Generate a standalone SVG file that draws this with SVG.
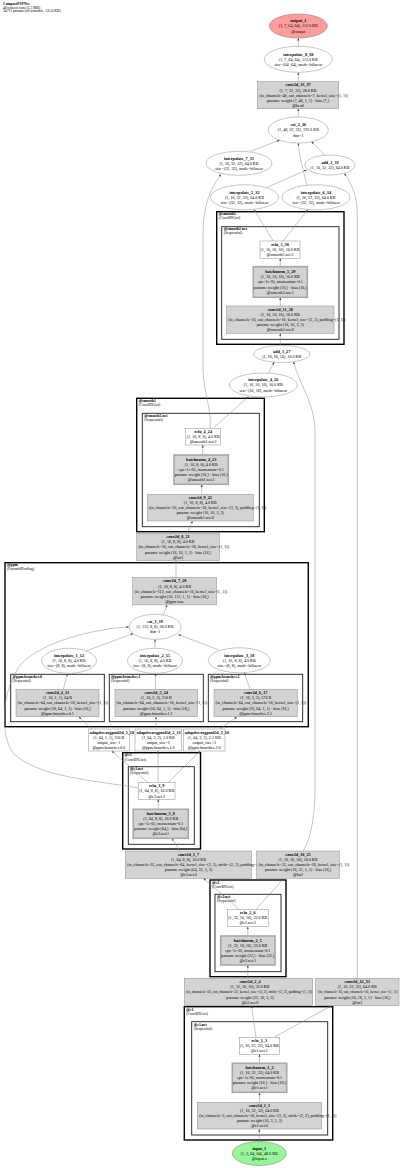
<svg xmlns="http://www.w3.org/2000/svg" width="400" height="1168" viewBox="0 0 400 1168">
<style>
text{font-family:"Liberation Serif","Times New Roman",serif;fill:#000}
.n text{font-size:4.1px;text-anchor:middle}
.n text.h{font-weight:bold;font-size:4.2px}
.n text.s{text-anchor:start}
.n text.sm{font-size:3.6px}
.cl text{font-size:3.8px}
.cl text.h{font-weight:bold}
.hd text{font-size:3.7px}
.e{fill:#fff;stroke:#8c8c8c;stroke-width:0.5}
.cv{fill:#d3d3d3;stroke:#8c8c8c;stroke-width:0.5}
.bn{fill:#d3d3d3;stroke:#a8a8a8;stroke-width:1.6}
.pl{fill:#fff;stroke:#8c8c8c;stroke-width:0.5}
.c1{fill:#fff;stroke:#000;stroke-width:1.4}
.c2{fill:#fff;stroke:#1a1a1a;stroke-width:0.9}
.ed path{fill:none;stroke:#8a8a8a;stroke-width:0.5;marker-end:url(#ah)}
</style>
<defs>
<marker id="ah" viewBox="0 0 10 10" refX="9" refY="5" markerWidth="2.6" markerHeight="2.6" markerUnits="userSpaceOnUse" orient="auto"><path d="M0,1 L10,5 L0,9 z" fill="#444"/></marker>
</defs>
<rect width="400" height="1168" fill="#fff"/>
<g class="hd" id="header">
<text x="3" y="5.2" font-weight="bold">CompactPSPNet</text>
<text x="3" y="8.8">40 tensors total (1.3 MB)</text>
<text x="3" y="12.4">34711 params (all trainable, 135.6 KB)</text>
</g>
<g id="clusters">
<g class="cl" id="cl_smooth2"><rect class="c1" x="216.7" y="211.7" width="127.3" height="132.6"/><text class="h" x="218.7" y="215">@smooth2</text><text x="218.7" y="219.3">(ConvBNAct)</text></g>
<g class="cl" id="cl_smooth2_net"><rect class="c2" x="221.7" y="226.7" width="117.3" height="112.6"/><text class="h" x="223.7" y="230">@smooth2.net</text><text x="223.7" y="234.3">(Sequential)</text></g>
<g class="cl" id="cl_smooth1"><rect class="c1" x="136.7" y="398.3" width="127.6" height="133.4"/><text class="h" x="138.7" y="401.6">@smooth1</text><text x="138.7" y="405.9">(ConvBNAct)</text></g>
<g class="cl" id="cl_smooth1_net"><rect class="c2" x="142.3" y="413.3" width="117" height="113.4"/><text class="h" x="144.3" y="416.6">@smooth1.net</text><text x="144.3" y="420.9">(Sequential)</text></g>
<g class="cl" id="cl_ppm"><rect class="c1" x="5" y="562.7" width="303.3" height="164"/><text class="h" x="7" y="566">@ppm</text><text x="7" y="570.3">(PyramidPooling)</text></g>
<g class="cl" id="cl_ppm_b0"><rect class="c2" x="10.7" y="674.3" width="93.6" height="47.4"/><text class="h" x="12.5" y="677.9">@ppm.branches.0</text><text x="12.5" y="682.2">(Sequential)</text></g>
<g class="cl" id="cl_ppm_b1"><rect class="c2" x="109.3" y="674.3" width="94" height="47.4"/><text class="h" x="111" y="677.9">@ppm.branches.1</text><text x="111" y="682.2">(Sequential)</text></g>
<g class="cl" id="cl_ppm_b2"><rect class="c2" x="208.3" y="674.3" width="94.4" height="47.4"/><text class="h" x="210" y="677.9">@ppm.branches.2</text><text x="210" y="682.2">(Sequential)</text></g>
<g class="cl" id="cl_c3"><rect class="c1" x="122.7" y="752.7" width="77.8" height="96.3"/><text class="h" x="124.5" y="756.3">@c3</text><text x="124.5" y="760.6">(ConvBNAct)</text></g>
<g class="cl" id="cl_c3_net"><rect class="c2" x="128.3" y="766.7" width="66" height="77.6"/><text class="h" x="130" y="770.1">@c3.net</text><text x="130" y="774.4">(Sequential)</text></g>
<g class="cl" id="cl_c2"><rect class="c1" x="210" y="880" width="76" height="96.7"/><text class="h" x="212" y="883.6">@c2</text><text x="212" y="887.9">(ConvBNAct)</text></g>
<g class="cl" id="cl_c2_net"><rect class="c2" x="215" y="894.3" width="66" height="77.4"/><text class="h" x="217" y="897.8">@c2.net</text><text x="217" y="902.1">(Sequential)</text></g>
<g class="cl" id="cl_c1"><rect class="c1" x="184.3" y="1006.7" width="148.4" height="133.3"/><text class="h" x="186.3" y="1010.5">@c1</text><text x="186.3" y="1014.8">(ConvBNAct)</text></g>
<g class="cl" id="cl_c1_net"><rect class="c2" x="191.7" y="1021.7" width="136" height="113.3"/><text class="h" x="193.7" y="1025.5">@c1.net</text><text x="193.7" y="1029.8">(Sequential)</text></g>
</g>
<g class="ed" id="edges">
<path d="M259.3 1141.5 L259.3 1129.3"/>
<path d="M259.5 1102.3 L259.5 1092.5"/>
<path d="M259.5 1063.3 L259.5 1054.5"/>
<path d="M256 1037.3 L251.5 1005.9"/>
<path d="M274 1037.3 L331 1005.9"/>
<path d="M247.8 978.3 L247.8 965.2"/>
<path d="M247.8 936 L247.8 926.9"/>
<path d="M239 909.3 L203.5 878.5"/>
<path d="M256 909.3 L284 878.5"/>
<path d="M180 851 L172 838.6"/>
<path d="M158.3 809.3 L158.3 799.5"/>
<path d="M148 782.7 L112 751.2"/>
<path d="M158 782.7 L158 751.2"/>
<path d="M168 782.7 L200 751.2"/>
<path d="M138.3 788 C100 781 40 778 14 754 C0 738 0 690 22 663 C45 640 100 628 128.8 627"/>
<path d="M92 729 L79 717"/>
<path d="M156 729 L156 717"/>
<path d="M220 729 L236.7 717"/>
<path d="M63.3 689.3 L67.5 673.5"/>
<path d="M155.5 689.3 L155.5 673.5"/>
<path d="M250 689.3 L244.3 672.7"/>
<path d="M86 651 L133 633.6"/>
<path d="M155 648.3 L155 639.5"/>
<path d="M219 650 L178.5 634.6"/>
<path d="M163.3 614.8 L167 605.1"/>
<path d="M176 577.5 L176 560.9"/>
<path d="M186.7 533.3 L192.5 521.2"/>
<path d="M201.7 494.3 L201.7 484.6"/>
<path d="M202.7 455 L202.7 445.2"/>
<path d="M213.3 428.3 L248.5 396.6"/>
<path d="M210 428.3 C212 410 204 395 203 370 L203 235 C203 208 209 190 221 174.5"/>
<path d="M268.3 373.3 L274 362.3"/>
<path d="M303.3 851 C311 838 315 815 315 790 L315 430 C315 405 300 385 293.5 362"/>
<path d="M280.3 345.5 L280.3 333.5"/>
<path d="M280.3 306 L280.3 297.6"/>
<path d="M280.3 266.7 L280.3 258.5"/>
<path d="M273.3 241 L254 209.6"/>
<path d="M283 241 L308 209.6"/>
<path d="M266.7 187.5 L306.5 170"/>
<path d="M307 185 C303 170 299 155 298.3 143.2"/>
<path d="M250 151.5 L279.5 140.3"/>
<path d="M325 155.2 L311.5 141.6"/>
<path d="M357.3 978.3 L357.3 215 C357.3 195 352 185 344.5 173.5"/>
<path d="M298.3 117 L298.3 108.9"/>
<path d="M298.3 81.7 L298.3 72.5"/>
<path d="M298.3 46.3 L298.3 38.2"/>
</g>
<g id="nodes">
<g class="n" id="output_1"><ellipse cx="298.3" cy="26" rx="29" ry="12" fill="#ff9c9c" stroke="#777" stroke-width="0.5"/><text class="h" x="298.3" y="22.3">output_1</text><text x="298.3" y="27.4">(1, 7, 64, 64), 112.0 KB</text><text x="298.3" y="32.5">@output</text></g>
<g class="n" id="interpolate_8_38"><ellipse class="e" cx="298.3" cy="59.3" rx="34" ry="13"/><text class="h" x="298.3" y="55.6">interpolate_8_38</text><text x="298.3" y="60.7">(1, 7, 64, 64), 112.0 KB</text><text x="298.3" y="65.8">size=(64, 64), mode=bilinear</text></g>
<g class="n" id="conv2d_13_37"><rect class="cv" x="257.3" y="81.7" width="81.4" height="27"/><text class="h" x="298" y="86.45">conv2d_13_37</text><text x="298" y="91.55">(1, 7, 32, 32), 28.0 KB</text><text class="s" x="259.3" y="96.65">(in_channels=48, out_channels=7, kernel_size=(1, 1))</text><text x="298" y="101.75">params: weight (7, 48, 1, 1) · bias (7,)</text><text x="298" y="106.85">@head</text></g>
<g class="n" id="cat_2_36"><ellipse class="e" cx="298.3" cy="130" rx="30" ry="13"/><text class="h" x="298.3" y="126.3">cat_2_36</text><text x="298.3" y="131.4">(1, 48, 32, 32), 192.0 KB</text><text x="298.3" y="136.5">dim=1</text></g>
<g class="n" id="interpolate_7_35"><ellipse class="e" cx="239" cy="163.3" rx="33" ry="12"/><text class="h" x="239" y="159.6">interpolate_7_35</text><text x="239" y="164.7">(1, 16, 32, 32), 64.0 KB</text><text x="239" y="169.8">size=(32, 32), mode=bilinear</text></g>
<g class="n" id="add_2_33"><ellipse class="e" cx="330" cy="165" rx="25" ry="10"/><text class="h" x="330" y="163.85">add_2_33</text><text x="330" y="168.95">(1, 16, 32, 32), 64.0 KB</text></g>
<g class="n" id="interpolate_5_32"><ellipse class="e" cx="244.5" cy="197.3" rx="34" ry="12.5"/><text class="h" x="244.5" y="193.6">interpolate_5_32</text><text x="244.5" y="198.7">(1, 16, 32, 32), 64.0 KB</text><text x="244.5" y="203.8">size=(32, 32), mode=bilinear</text></g>
<g class="n" id="interpolate_6_34"><ellipse class="e" cx="316" cy="197.3" rx="34" ry="12.5"/><text class="h" x="316" y="193.6">interpolate_6_34</text><text x="316" y="198.7">(1, 16, 32, 32), 64.0 KB</text><text x="316" y="203.8">size=(32, 32), mode=bilinear</text></g>
<g class="n" id="relu_5_30"><rect class="pl" x="260" y="241" width="40" height="17.3"/><text class="h" x="280" y="245.8">relu_5_30</text><text x="280" y="250.9">(1, 16, 16, 16), 16.0 KB</text><text x="280" y="256">@smooth2.net.2</text></g>
<g class="n" id="batchnorm_5_29"><rect class="bn" x="253.3" y="266.7" width="54" height="30.6"/><text class="h" x="280.3" y="273.2">batchnorm_5_29</text><text x="280.3" y="278.3">(1, 16, 16, 16), 16.0 KB</text><text x="280.3" y="283.4">eps=1e-05, momentum=0.1</text><text x="280.3" y="288.5">params: weight (16,) · bias (16,)</text><text x="280.3" y="293.6">@smooth2.net.1</text></g>
<g class="n" id="conv2d_11_28"><rect class="cv" x="226.7" y="306" width="107.3" height="27.3"/><text class="h" x="280.3" y="310.85">conv2d_11_28</text><text x="280.3" y="315.95">(1, 16, 16, 16), 16.0 KB</text><text class="s" x="228.3" y="321.05">(in_channels=16, out_channels=16, kernel_size=(3, 3), padding=(1, 1))</text><text x="280.3" y="326.15">params: weight (16, 16, 3, 3)</text><text x="280.3" y="331.25">@smooth2.net.0</text></g>
<g class="n" id="add_1_27"><ellipse class="e" cx="281.7" cy="354" rx="28" ry="8.5"/><text class="h" x="281.7" y="352.85">add_1_27</text><text x="281.7" y="357.95">(1, 16, 16, 16), 16.0 KB</text></g>
<g class="n" id="interpolate_4_26"><ellipse class="e" cx="263.3" cy="385" rx="34" ry="12"/><text class="h" x="263.3" y="381.3">interpolate_4_26</text><text x="263.3" y="386.4">(1, 16, 16, 16), 16.0 KB</text><text x="263.3" y="391.5">size=(16, 16), mode=bilinear</text></g>
<g class="n" id="relu_4_24"><rect class="pl" x="185.7" y="428.3" width="35" height="16.7"/><text class="h" x="203.2" y="432.95">relu_4_24</text><text x="203.2" y="438.05">(1, 16, 8, 8), 4.0 KB</text><text x="203.2" y="443.15">@smooth1.net.2</text></g>
<g class="n" id="batchnorm_4_23"><rect class="bn" x="174" y="455" width="54.3" height="29.3"/><text class="h" x="201.2" y="460.85">batchnorm_4_23</text><text x="201.2" y="465.95">(1, 16, 8, 8), 4.0 KB</text><text x="201.2" y="471.05">eps=1e-05, momentum=0.1</text><text x="201.2" y="476.15">params: weight (16,) · bias (16,)</text><text x="201.2" y="481.25">@smooth1.net.1</text></g>
<g class="n" id="conv2d_9_22"><rect class="cv" x="147.3" y="494.3" width="106" height="26.7"/><text class="h" x="200.3" y="498.85">conv2d_9_22</text><text x="200.3" y="503.95">(1, 16, 8, 8), 4.0 KB</text><text class="s" x="149" y="509.05">(in_channels=16, out_channels=16, kernel_size=(3, 3), padding=(1, 1))</text><text x="200.3" y="514.15">params: weight (16, 16, 3, 3)</text><text x="200.3" y="519.25">@smooth1.net.0</text></g>
<g class="n" id="conv2d_8_21"><rect class="cv" x="136.7" y="533.3" width="82.6" height="27.4"/><text class="h" x="178" y="538.2">conv2d_8_21</text><text x="178" y="543.3">(1, 16, 8, 8), 4.0 KB</text><text class="s" x="138.5" y="548.4">(in_channels=16, out_channels=16, kernel_size=(1, 1))</text><text x="178" y="553.5">params: weight (16, 16, 1, 1) · bias (16,)</text><text x="178" y="558.6">@lat3</text></g>
<g class="n" id="conv2d_7_20"><rect class="cv" x="132.7" y="577.5" width="84" height="27.4"/><text class="h" x="174.7" y="582.4">conv2d_7_20</text><text x="174.7" y="587.5">(1, 16, 8, 8), 4.0 KB</text><text class="s" x="134.5" y="592.6">(in_channels=112, out_channels=16, kernel_size=(1, 1))</text><text x="174.7" y="597.7">params: weight (16, 112, 1, 1) · bias (16,)</text><text x="174.7" y="602.8">@ppm.fuse</text></g>
<g class="n" id="cat_1_19"><ellipse class="e" cx="155" cy="626.8" rx="26" ry="12.5"/><text class="h" x="155" y="623.1">cat_1_19</text><text x="155" y="628.2">(1, 112, 8, 8), 28.0 KB</text><text x="155" y="633.3">dim=1</text></g>
<g class="n" id="interpolate_1_12"><ellipse class="e" cx="69" cy="660.8" rx="27.5" ry="12.5"/><text class="h" x="69" y="657.1">interpolate_1_12</text><text x="69" y="662.2">(1, 16, 8, 8), 4.0 KB</text><text x="69" y="667.3">size=(8, 8), mode=bilinear</text></g>
<g class="n" id="interpolate_2_15"><ellipse class="e" cx="155" cy="660.8" rx="27.5" ry="12.5"/><text class="h" x="155" y="657.1">interpolate_2_15</text><text x="155" y="662.2">(1, 16, 8, 8), 4.0 KB</text><text x="155" y="667.3">size=(8, 8), mode=bilinear</text></g>
<g class="n" id="interpolate_3_18"><ellipse class="e" cx="239.3" cy="660.3" rx="31" ry="12.5"/><text class="h" x="239.3" y="656.6">interpolate_3_18</text><text x="239.3" y="661.7">(1, 16, 8, 8), 4.0 KB</text><text x="239.3" y="666.8">size=(8, 8), mode=bilinear</text></g>
<g class="n" id="conv2d_4_11"><rect class="cv" x="16" y="689.3" width="83" height="27.4"/><text class="h" x="57.5" y="694.2">conv2d_4_11</text><text x="57.5" y="699.3">(1, 16, 1, 1), 64 B</text><text class="s" x="17.5" y="704.4">(in_channels=64, out_channels=16, kernel_size=(1, 1))</text><text x="57.5" y="709.5">params: weight (16, 64, 1, 1) · bias (16,)</text><text x="57.5" y="714.6">@ppm.branches.0.1</text></g>
<g class="n" id="conv2d_5_14"><rect class="cv" x="115" y="689.3" width="82.5" height="27.4"/><text class="h" x="156.25" y="694.2">conv2d_5_14</text><text x="156.25" y="699.3">(1, 16, 2, 2), 256 B</text><text class="s" x="116.5" y="704.4">(in_channels=64, out_channels=16, kernel_size=(1, 1))</text><text x="156.25" y="709.5">params: weight (16, 64, 1, 1) · bias (16,)</text><text x="156.25" y="714.6">@ppm.branches.1.1</text></g>
<g class="n" id="conv2d_6_17"><rect class="cv" x="214" y="689.3" width="83.3" height="27.4"/><text class="h" x="255.7" y="694.2">conv2d_6_17</text><text x="255.7" y="699.3">(1, 16, 3, 3), 576 B</text><text class="s" x="215.5" y="704.4">(in_channels=64, out_channels=16, kernel_size=(1, 1))</text><text x="255.7" y="709.5">params: weight (16, 64, 1, 1) · bias (16,)</text><text x="255.7" y="714.6">@ppm.branches.2.1</text></g>
<g class="n" id="adaptiveavgpool2d_1_10"><rect class="pl" x="88.3" y="729" width="41" height="22"/><text class="h s" x="89.8" y="733.75">adaptiveavgpool2d_1_10</text><text x="108.8" y="738.85">(1, 64, 1, 1), 256 B</text><text x="108.8" y="743.95">output_size=1</text><text x="108.8" y="749.05">@ppm.branches.0.0</text></g>
<g class="n" id="adaptiveavgpool2d_2_13"><rect class="pl" x="135" y="729" width="46.7" height="22"/><text class="h s" x="136.5" y="733.75">adaptiveavgpool2d_2_13</text><text x="158.3" y="738.85">(1, 64, 2, 2), 1.0 KB</text><text x="158.3" y="743.95">output_size=2</text><text x="158.3" y="749.05">@ppm.branches.1.0</text></g>
<g class="n" id="adaptiveavgpool2d_3_16"><rect class="pl" x="183.3" y="729" width="41.7" height="22"/><text class="h s" x="184.8" y="733.75">adaptiveavgpool2d_3_16</text><text x="204.2" y="738.85">(1, 64, 3, 3), 2.2 KB</text><text x="204.2" y="743.95">output_size=3</text><text x="204.2" y="749.05">@ppm.branches.2.0</text></g>
<g class="n" id="relu_3_9"><rect class="pl" x="138.3" y="782.7" width="36.7" height="16.6"/><text class="h" x="156.7" y="787.35">relu_3_9</text><text x="156.7" y="792.45">(1, 64, 8, 8), 16.0 KB</text><text x="156.7" y="797.55">@c3.net.2</text></g>
<g class="n" id="batchnorm_3_8"><rect class="bn" x="133.3" y="809.3" width="55" height="29"/><text class="h" x="160.8" y="815">batchnorm_3_8</text><text x="160.8" y="820.1">(1, 64, 8, 8), 16.0 KB</text><text x="160.8" y="825.2">eps=1e-05, momentum=0.1</text><text x="160.8" y="830.3">params: weight (64,) · bias (64,)</text><text x="160.8" y="835.4">@c3.net.1</text></g>
<g class="n" id="conv2d_3_7"><rect class="cv" x="125.3" y="851" width="126.4" height="27.3"/><text class="h" x="188.5" y="855.85">conv2d_3_7</text><text x="188.5" y="860.95">(1, 64, 8, 8), 16.0 KB</text><text class="s" x="127" y="866.05">(in_channels=32, out_channels=64, kernel_size=(3, 3), stride=(2, 2), padding=(1, 1))</text><text x="188.5" y="871.15">params: weight (64, 32, 3, 3)</text><text x="188.5" y="876.25">@c3.net.0</text></g>
<g class="n" id="conv2d_10_25"><rect class="cv" x="256.7" y="851" width="82.6" height="27.3"/><text class="h" x="298" y="855.85">conv2d_10_25</text><text x="298" y="860.95">(1, 16, 16, 16), 16.0 KB</text><text class="s" x="258.5" y="866.05">(in_channels=32, out_channels=16, kernel_size=(1, 1))</text><text x="298" y="871.15">params: weight (16, 32, 1, 1) · bias (16,)</text><text x="298" y="876.25">@lat2</text></g>
<g class="n" id="relu_2_6"><rect class="pl" x="227.3" y="909.3" width="41" height="17.4"/><text class="h" x="247.8" y="914">relu_2_6</text><text x="247.8" y="919.1">(1, 32, 16, 16), 32.0 KB</text><text x="247.8" y="924.2">@c2.net.2</text></g>
<g class="n" id="batchnorm_2_5"><rect class="bn" x="220.7" y="936" width="54.3" height="29"/><text class="h" x="247.8" y="941.7">batchnorm_2_5</text><text x="247.8" y="946.8">(1, 32, 16, 16), 32.0 KB</text><text x="247.8" y="951.9">eps=1e-05, momentum=0.1</text><text x="247.8" y="957">params: weight (32,) · bias (32,)</text><text x="247.8" y="962.1">@c2.net.1</text></g>
<g class="n" id="conv2d_2_4"><rect class="cv" x="184.3" y="978.3" width="128.4" height="27.4"/><text class="h" x="250" y="983.2">conv2d_2_4</text><text x="250" y="988.3">(1, 32, 16, 16), 32.0 KB</text><text class="s" x="186" y="993.4" textLength="126" lengthAdjust="spacingAndGlyphs">(in_channels=16, out_channels=32, kernel_size=(3, 3), stride=(2, 2), padding=(1, 1))</text><text x="250" y="998.5">params: weight (32, 16, 3, 3)</text><text x="250" y="1003.6">@c2.net.0</text></g>
<g class="n" id="conv2d_12_31"><rect class="cv" x="315.7" y="978.3" width="83.3" height="27.4"/><text class="h" x="357.3" y="983.2">conv2d_12_31</text><text x="357.3" y="988.3">(1, 16, 32, 32), 64.0 KB</text><text class="s sm" x="318" y="993.4">(in_channels=16, out_channels=16, kernel_size=(1, 1))</text><text x="357.3" y="998.5">params: weight (16, 16, 1, 1) · bias (16,)</text><text x="357.3" y="1003.6">@lat1</text></g>
<g class="n" id="relu_1_3"><rect class="pl" x="239.3" y="1037.3" width="40" height="17"/><text class="h" x="259.3" y="1042">relu_1_3</text><text x="259.3" y="1047.1">(1, 16, 32, 32), 64.0 KB</text><text x="259.3" y="1052.2">@c1.net.2</text></g>
<g class="n" id="batchnorm_1_2"><rect class="bn" x="232.3" y="1063.3" width="54.4" height="29"/><text class="h" x="259.5" y="1069">batchnorm_1_2</text><text x="259.5" y="1074.1">(1, 16, 32, 32), 64.0 KB</text><text x="259.5" y="1079.2">eps=1e-05, momentum=0.1</text><text x="259.5" y="1084.3">params: weight (16,) · bias (16,)</text><text x="259.5" y="1089.4">@c1.net.1</text></g>
<g class="n" id="conv2d_1_1"><rect class="cv" x="197.3" y="1102.3" width="124.4" height="26.7"/><text class="h" x="259.5" y="1106.85">conv2d_1_1</text><text x="259.5" y="1111.95">(1, 16, 32, 32), 64.0 KB</text><text class="s" x="199" y="1117.05">(in_channels=3, out_channels=16, kernel_size=(3, 3), stride=(2, 2), padding=(1, 1))</text><text x="259.5" y="1122.15">params: weight (16, 3, 3, 3)</text><text x="259.5" y="1127.25">@c1.net.0</text></g>
<g class="n" id="input_1"><ellipse cx="259.3" cy="1153.5" rx="27" ry="12" fill="#98f598" stroke="#777" stroke-width="0.5"/><text class="h" x="259.3" y="1149.8">input_1</text><text x="259.3" y="1154.9">(1, 3, 64, 64), 48.0 KB</text><text x="259.3" y="1160">@input.x</text></g>
</g>
</svg>
